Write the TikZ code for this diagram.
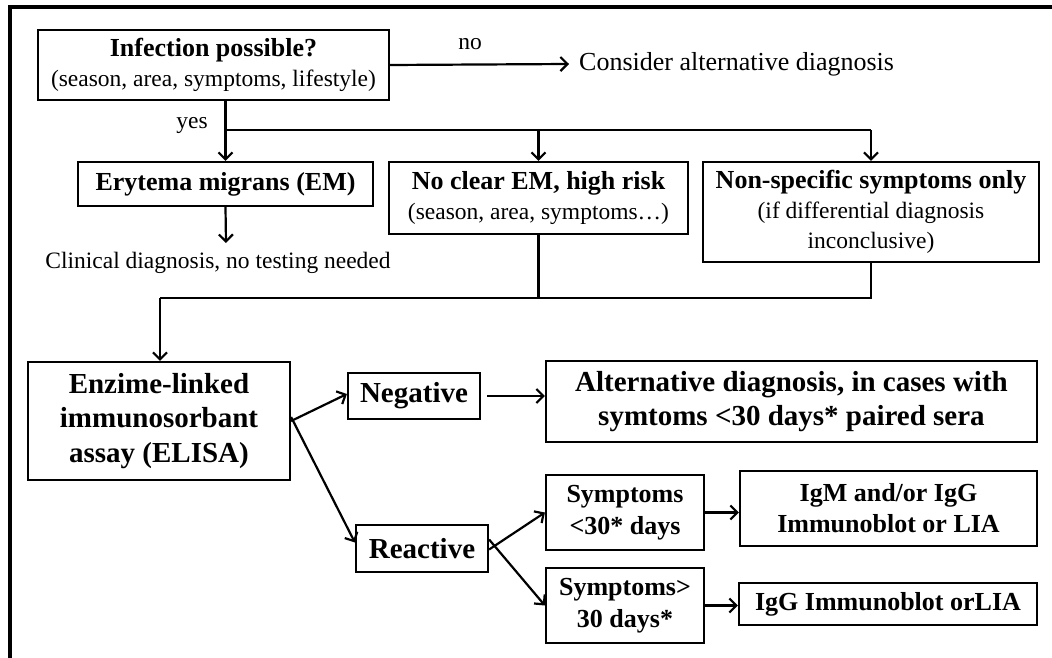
\documentclass[tikz,border=0pt]{standalone}
\usepackage{fontspec}
\setmainfont{Liberation Serif}
\usetikzlibrary{arrows.meta}
\tikzset{
  box/.style={draw, line width=2.2pt, rectangle, inner sep=0pt, align=center},
  reg/.style={font=\fontsize{23.5}{30}\selectfont},
  bigb/.style={font=\fontsize{26}{31}\selectfont\bfseries},
  hugeb/.style={font=\fontsize{29}{34.5}\selectfont\bfseries},
  conn/.style={line width=2.2pt},
  arr/.style={line width=2.2pt, -{Straight Barb[length=7pt,width=14pt]}},
  frame/.style={line width=4pt}
}
\begin{document}
\begin{tikzpicture}[x=1pt,y=-1pt]
\useasboundingbox (0,0) rectangle (1052,658);
% frame
\coordinate (fr1) at (1052,7);
\coordinate (fr2) at (10,7);
\coordinate (fr3) at (10,658);
\draw[frame] (fr1) -- (8,7);
\draw[frame] (fr2) -- (fr3);

% nodes
\node[box, reg, minimum width=351pt, minimum height=70pt] (inf) at (213.5,65)
  {\textbf{\fontsize{26}{30}\selectfont Infection possible?}\\(season, area, symptoms, lifestyle)};
\node[reg, anchor=west, inner xsep=10pt, inner ysep=0pt] (cons) at (569,64)
  {\fontsize{26}{30}\selectfont Consider alternative diagnosis};
\node[reg] (no) at (470,44) {no};
\node[reg] (yes) at (192,126) {yes};

\node[box, bigb, minimum width=295pt, minimum height=44pt] (em) at (225.5,184) {Erytema migrans (EM)};
\node[box, reg, minimum width=299pt, minimum height=72pt] (ncem) at (538.5,198)
  {\textbf{\fontsize{26}{31}\selectfont No clear EM, high risk}\\(season, area, symptoms\ldots)};
\node[box, reg, minimum width=336pt, minimum height=100pt] (nss) at (871,212)
  {\textbf{\fontsize{26}{29}\selectfont Non-specific symptoms only}\\(if differential diagnosis\\inconclusive)};
\node[reg] (clin) at (218,263) {Clinical diagnosis, no testing needed};

\node[box, hugeb, minimum width=262pt, minimum height=118pt] (elisa) at (159,421)
  {Enzime-linked\\immunosorbant\\assay (ELISA)};
\node[box, hugeb, minimum width=132pt, minimum height=46pt] (neg) at (414,396) {Negative};
\node[box, hugeb, minimum width=491pt, minimum height=81pt] (alt) at (791.5,401.5)
  {Alternative diagnosis, in cases with\\symtoms <30 days* paired sera};
\node[box, hugeb, minimum width=132pt, minimum height=47pt] (react) at (422,548.5) {Reactive};
\node[box, bigb, font=\fontsize{26}{32}\selectfont\bfseries, minimum width=158pt, minimum height=75pt] (sa) at (625,512.5)
  {Symptoms\\<30* days};
\node[box, bigb, font=\fontsize{26}{32}\selectfont\bfseries, minimum width=158pt, minimum height=75pt] (sb) at (625,605.5)
  {Symptoms>\\30 days*};
\node[box, bigb, minimum width=297pt, minimum height=75pt] (igm) at (888.5,508.5)
  {IgM and/or IgG\\Immunoblot or LIA};
\node[box, bigb, minimum width=298pt, minimum height=42pt] (igg) at (888,604)
  {IgG Immunoblot orLIA};

% connectors
\draw[arr] (inf.east) -- (cons.west);
\draw[arr] (inf.south -| em.north) -- (em.north);
\coordinate (br) at (226,130);
\draw[conn] (br) -- (br -| nss.north);
\draw[arr] (br -| ncem.north) -- (ncem.north);
\draw[arr] (br -| nss.north) -- (nss.north);
\coordinate (clintop) at (226,243);
\draw[arr] (em.south) -- (clintop);

\coordinate (mg) at (160,298);
\draw[conn] (ncem.south) -- (ncem.south |- mg);
\draw[conn] (nss.south) -- (nss.south |- mg) -- (mg);
\draw[arr] (mg) -- (elisa.north -| mg);

\draw[arr] (elisa.east) -- ([yshift=2pt]neg.west);
\draw[arr] ([yshift=4pt]elisa.east) -- ([yshift=6pt]react.west);
\draw[arr, shorten <=6pt] (neg.east) -- (neg.east -| alt.west);
\draw[arr] ([yshift=-1pt]react.east) -- (sa.west);
\draw[arr] ([yshift=9pt]react.east) -- (sb.west);
\draw[arr] (sa.east) -- (sa.east -| igm.west);
\draw[arr] (sb.east) -- (sb.east -| igg.west);
\end{tikzpicture}
\end{document}
